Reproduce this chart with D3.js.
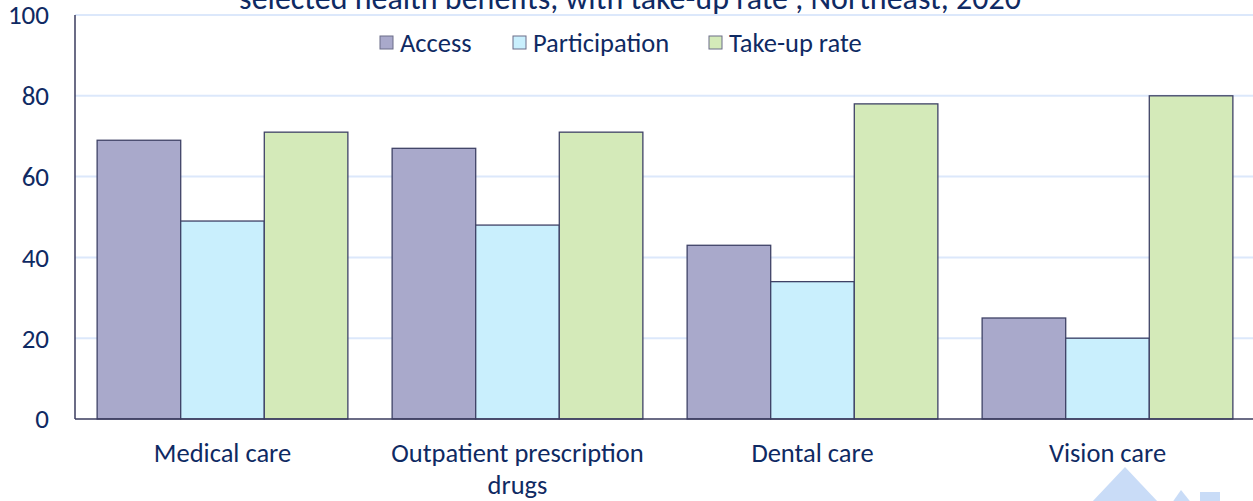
<!DOCTYPE html>
<html>
<head>
<meta charset="utf-8">
<script src="https://cdn.jsdelivr.net/npm/d3@7"></script>
<style>
  body { margin: 0; background: #fff; }
  text { font-family: Carlito, "Open Sans", "Liberation Sans", sans-serif; fill: #0f2a63; }
</style>
</head>
<body>
<div id="chart"></div>
<script>
var categories = ["Medical care", "Outpatient prescription drugs", "Dental care", "Vision care"];
var seriesNames = ["Access", "Participation", "Take-up rate"];
var access = [69, 67, 43, 25];
var participation = [49, 48, 34, 20];
var takeUp = [71, 71, 78, 80];
var yTicks = [0, 20, 40, 60, 80, 100];
var title = "selected health benefits, with take-up rate , Northeast, 2020";

var W = 1253, H = 501;
var margin = {top: 15, right: 0, bottom: 82, left: 75},
    width = W - margin.left - margin.right,
    height = H - margin.top - margin.bottom;

var svg = d3.select("#chart").append("svg")
    .attr("width", W)
    .attr("height", H);

var g = svg.append("g")
    .attr("transform", "translate(" + margin.left + "," + margin.top + ")");

var x0 = d3.scaleBand()
    .domain(categories)
    .range([0, 4 * 295])
    .paddingInner(0.15)
    .paddingOuter(0.075);

var x1 = d3.scaleBand()
    .domain(seriesNames)
    .range([0, x0.bandwidth()]);

var y = d3.scaleLinear()
    .domain([0, 100])
    .range([height, 0]);

var z = d3.scaleOrdinal()
    .domain(seriesNames)
    .range(["#a9a9cb", "#c9effd", "#d4eab9"]);

var rows = categories.map(function(c, i) {
  return {cat: c, values: [access[i], participation[i], takeUp[i]]};
});

// gridlines
g.append("g")
  .selectAll("line")
  .data(yTicks.filter(function(d) { return d > 0; }))
  .enter().append("line")
    .attr("x1", 0)
    .attr("x2", W - margin.left)
    .attr("y1", function(d) { return y(d); })
    .attr("y2", function(d) { return y(d); })
    .attr("stroke", "#dce8fb")
    .attr("stroke-width", 2);

// title, cut off at the top as in the source image
svg.append("text")
  .attr("x", 630)
  .attr("y", 9)
  .attr("text-anchor", "middle")
  .style("font-size", "32px")
  .text(title);

// bars
g.append("g")
  .selectAll("g")
  .data(rows)
  .enter().append("g")
    .attr("transform", function(d) { return "translate(" + x0(d.cat) + ",0)"; })
  .selectAll("rect")
  .data(function(d) { return seriesNames.map(function(k, j) { return {key: k, value: d.values[j]}; }); })
  .enter().append("rect")
    .attr("x", function(d) { return x1(d.key); })
    .attr("y", function(d) { return y(d.value); })
    .attr("width", x1.bandwidth())
    .attr("height", function(d) { return height - y(d.value); })
    .attr("fill", function(d) { return z(d.key); })
    .attr("stroke", "#3f4266")
    .attr("stroke-width", 1.3);

// axes
g.append("line")
  .attr("x1", 0).attr("x2", 0)
  .attr("y1", 0).attr("y2", height)
  .attr("stroke", "#3a3b5e").attr("stroke-width", 1.5);
g.append("line")
  .attr("x1", 0).attr("x2", W - margin.left)
  .attr("y1", height).attr("y2", height)
  .attr("stroke", "#3a3b5e").attr("stroke-width", 1.5);

g.append("g")
  .selectAll("text")
  .data(yTicks)
  .enter().append("text")
    .attr("x", -26)
    .attr("y", function(d) { return y(d); })
    .attr("dy", "0.35em")
    .attr("text-anchor", "end")
    .style("font-size", "27px")
    .text(function(d) { return d; });

// category labels (wrapped)
var wraps = {"Outpatient prescription drugs": ["Outpatient prescription", "drugs"]};
var lab = g.append("g")
  .selectAll("text")
  .data(categories)
  .enter().append("text")
    .attr("x", function(d) { return x0(d) + x0.bandwidth() / 2; })
    .attr("y", height + 43)
    .attr("text-anchor", "middle")
    .style("font-size", "26.5px");
lab.selectAll("tspan")
  .data(function(d) { return wraps[d] || [d]; })
  .enter().append("tspan")
    .attr("x", function() { return d3.select(this.parentNode).attr("x"); })
    .attr("dy", function(d, i) { return i === 0 ? 0 : 32; })
    .text(function(d) { return d; });

// legend
var legendX = [380, 513, 709];
var legend = svg.append("g")
  .selectAll("g")
  .data(seriesNames)
  .enter().append("g")
    .attr("transform", function(d, i) { return "translate(" + legendX[i] + ",36)"; });
legend.append("rect")
  .attr("width", 13)
  .attr("height", 13)
  .attr("fill", z)
  .attr("stroke", "#6b6d88")
  .attr("stroke-width", 1);
legend.append("text")
  .attr("x", 20)
  .attr("y", 7)
  .attr("dy", "0.35em")
  .style("font-size", "26.5px")
  .text(function(d) { return d; });

// faint decorative logo at the bottom right
var deco = svg.append("g").attr("fill", "#c9dcf7");
deco.append("polygon").attr("points", "1125,467 1075,520 1175,520");
deco.append("polygon").attr("points", "1181,490 1160,520 1205,520");
deco.append("rect").attr("x", 1200).attr("y", 492).attr("width", 20).attr("height", 10);
</script>
</body>
</html>
